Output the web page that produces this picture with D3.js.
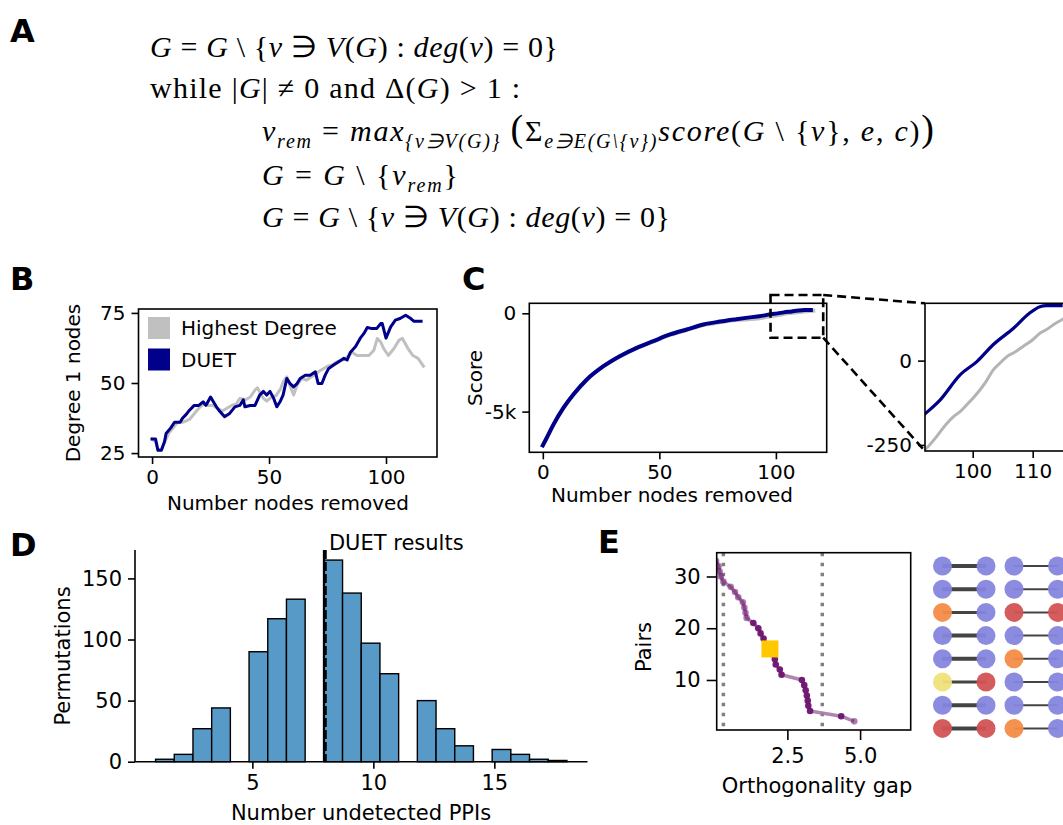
<!DOCTYPE html>
<html><head><meta charset="utf-8">
<script src="https://cdn.jsdelivr.net/npm/d3@7/dist/d3.min.js"></script>
<style>body{margin:0;background:#fff}svg{display:block}</style>
</head><body><svg id="c" width="1063" height="825"></svg>
<script>
// ---------------- DATA ----------------
// Panel B: Degree 1 nodes vs number nodes removed
const bDuetX = [0,1.5,2.5,4,5.3,6,8,9.6,12,13,14.6,16,18,20,21.8,23,25,27.5,29,31,33,35.4,37.5,39,39.7,42,44,46,47.6,49,50.4,52,53.3,54.7,56,57.6,59,60.5,62,63.3,65.5,67.6,69.8,71,72.6,74,75.5,77.6,79.8,82,83.4,84.8,87,89,90.5,92,94,96,97.7,98.4,100,102,104,106,108.4,110.6,112,115];
const bDuetY = [30,30,26,26,29,32,34,36,36,37.4,38.8,40.3,42,42,43.3,42,45,41.5,39.8,38,39,41.5,42,44,41.5,42,42,45.7,47,45.7,47,44.5,41.5,43.3,45.7,51.6,49.8,48.6,49.8,51.6,52.8,52.8,54,49.8,49.8,52.8,55.2,56.4,57.6,58.8,58.2,61,63,66,67.6,69.8,69.4,69.4,71.2,71.2,66,70,72.4,73,74.2,73,72,72];
const bHighX = [0,1.5,2.5,4,5.5,7,9,11,13,14.6,16,18,20,22,24,26,28,30,32,34,36,37.5,40,42,44,45,47.6,49,51,53,55,56,57.6,59,60.5,62,64,66,68,70,71,73.4,75,77,79,81,83,85.5,87.6,90.5,92.7,94.8,96.3,97.7,99,101,103.4,105.6,107,109.4,111.5,113.7,116];
const bHighY = [30,29,26,26.5,29,32,34,36,36,36.5,37,39,41,42.5,42,42,41,40,41,42,42.5,44.5,44,45,47.5,48.3,44.5,43.5,45,45.5,48,50.4,52.2,49,45.7,49.3,51.6,51,52.2,53,54,55.2,56,56.4,57.6,58,59,61,59.8,59.8,59.8,61.7,65.9,64.7,62.3,59.8,62.3,65.3,65.9,62.3,59.8,58.8,56];
const bXTicks = [0,50,100];
const bYTicks = [25,50,75];
const bSeries = ["Highest Degree","DUET"];

// Panel C: Score vs number nodes removed (main + inset)
const cDuetX = [0,1.7,4.6,8.9,13.1,18.9,26,33,40.3,47.4,54.6,61.7,68.9,76,83,88,92.05,94.55,97.9,100.7,103.4,106.8,109.5,111.2,112.3,115];
const cDuetY = [-6720,-6330,-5650,-4800,-4130,-3365,-2690,-2180,-1755,-1415,-1077,-823,-568,-420,-300,-220,-158,-117,-42,-3,47,96,141,160,163,163];
const cHighX = [0,1.7,4.6,8.9,13.1,18.9,26,33,40.3,47.4,54.6,61.7,68.9,76,83,88,92.3,94,95.5,96.8,98,99,100,101.2,102.3,103.4,104.5,105.7,107,108.4,110,111.2,112.3,113.4,115,116];
const cHighY = [-6730,-6340,-5665,-4815,-4145,-3380,-2705,-2195,-1772,-1435,-1100,-850,-600,-455,-345,-300,-260,-225,-190,-166,-150,-131,-112,-87,-60,-28,-8,12,25,42,62,81,92,106,123,135];
const cXTicks = [0,50,100];
const cYTicks = [-5000,0];
const cYTickLabels = ["-5k","0"];
const insetXTicks = [100,110];
const insetYTicks = [-250,0];
const zoomBoxX = [97.7,120.3];
const zoomBoxY = [-1240,930];

// Panel D: histogram of undetected PPIs over permutations
const dRange = [1,18];
const dCounts = [2,6,27,44,0,90,117,133,0,165,138,97,72,0,50,27,13,0,10,6,2,1];
const dXTicks = [5,10,15];
const dYTicks = [0,50,100,150];
const dDuet = 8;

// Panel E: orthogonality gap vs pairs
const ePairs = [33,32,31,30,29,28,27,26,25,24,23,22,21,20,19,18,17,16,15,14,13,12,11,10,9,8,7,6,5,4,3,2];
const eGap   = [0.05,0.13,0.17,0.21,0.30,0.55,0.70,0.81,0.97,1.02,1.06,1.10,1.33,1.50,1.58,1.68,1.75,1.90,1.97,2.07,2.10,2.24,2.30,3.00,3.08,3.13,3.17,3.20,3.22,3.28,4.35,4.80];
const eSelected = {gap:1.9, pairs:16};
const eThresholds = [0.3,3.7];
const eXTicks = [2.5,5.0];
const eYTicks = [10,20,30];
// node-pair glyphs (rows x [pair1 a, pair1 b, pair2 a, pair2 b])
const nodeColors = [
  ["L","L","L","L"],
  ["L","L","L","L"],
  ["O","L","R","R"],
  ["L","L","L","L"],
  ["L","L","O","L"],
  ["Y","R","L","L"],
  ["L","L","L","L"],
  ["R","R","O","L"]
];
const edgeWeight = [[4,2],[4,2],[3,2],[4,2],[4,2],[3,2],[4,2],[4,2]];

// ---------------- DRAWING ----------------
const FONT = "DejaVu Sans";
const svg = d3.select("#c");
svg.append("rect").attr("width",1063).attr("height",825).attr("fill","#fff");

function styleAxis(g, fs){
  g.select(".domain").remove();
  g.selectAll(".tick line").attr("stroke","#000").attr("stroke-width",1.6);
  g.selectAll(".tick text").attr("font-family",FONT).attr("font-size",fs||20).attr("fill","#000");
}
function box(x0,y0,x1,y1){
  svg.append("rect").attr("x",x0).attr("y",y0).attr("width",x1-x0).attr("height",y1-y0)
    .attr("fill","none").attr("stroke","#000").attr("stroke-width",1.6);
}
function label(t,x,y,rot,fs){
  const e = svg.append("text").attr("font-family",FONT).attr("font-size",fs||20).attr("text-anchor","middle").text(t);
  if(rot) e.attr("transform",`translate(${x},${y}) rotate(-90)`); else e.attr("x",x).attr("y",y);
  return e;
}
function letter(t,x,y){
  svg.append("text").attr("x",x).attr("y",y).attr("font-family",FONT).attr("font-weight","bold")
    .attr("font-size",32).text(t);
}

// ---- Panel A: algorithm ----
letter("A",10,42);
function mathLine(x,y,parts,len){
  const t = svg.append("text").attr("x",x).attr("y",y).attr("font-family","Liberation Serif")
    .attr("font-size",30).attr("xml:space","preserve").style("white-space","pre")
    .attr("textLength",len).attr("lengthAdjust","spacing");
  let shift = 0;
  parts.forEach(p=>{
    const target = p.s ? 7 : 0;
    t.append("tspan").attr("dy",target-shift)
      .attr("font-style",p.i?"italic":"normal")
      .attr("font-size",p.s?20:(p.b?38:30)).text(p.t);
    shift = target;
  });
}
const lineDeg = [{t:"G",i:1},{t:" = "},{t:"G",i:1},{t:" \\ {"},{t:"v",i:1},{t:" ∋ "},{t:"V",i:1},{t:"("},{t:"G",i:1},{t:") : "},{t:"deg",i:1},{t:"("},{t:"v",i:1},{t:") = 0}"}];
mathLine(150,57,lineDeg,408);
mathLine(150,98,[{t:"while |"},{t:"G",i:1},{t:"| ≠ 0 and Δ("},{t:"G",i:1},{t:") > 1 :"}],370);
mathLine(262,141,[{t:"v",i:1},{t:"rem",i:1,s:1},{t:" = "},{t:"max",i:1},{t:"{v∋V(G)}",i:1,s:1},{t:" "},{t:"(",b:1},{t:"Σ"},{t:"e∋E(G\\{v})",i:1,s:1},{t:"score",i:1},{t:"("},{t:"G",i:1},{t:" \\ {"},{t:"v",i:1},{t:"}, "},{t:"e",i:1},{t:", "},{t:"c",i:1},{t:")"},{t:")",b:1}],672);
mathLine(262,185,[{t:"G",i:1},{t:" = "},{t:"G",i:1},{t:" \\ {"},{t:"v",i:1},{t:"rem",i:1,s:1},{t:"}"}],196);
mathLine(262,227,lineDeg,408);

// ---- Panel B ----
letter("B",10,290);
const bx = d3.scaleLinear().domain([-5.8,121.8]).range([138.5,437]);
const by = d3.scaleLinear().domain([23.6,76.4]).range([457,309]);
styleAxis(svg.append("g").attr("transform","translate(0,457)").call(d3.axisBottom(bx).tickValues(bXTicks).tickSize(7).tickPadding(6)));
styleAxis(svg.append("g").attr("transform","translate(138.5,0)").call(d3.axisLeft(by).tickValues(bYTicks).tickSize(7).tickPadding(6)));
const bLine = d3.line().x(d=>bx(d[0])).y(d=>by(d[1]));
svg.append("path").datum(d3.zip(bHighX,bHighY)).attr("d",bLine).attr("fill","none")
  .attr("stroke","#c0c0c0").attr("stroke-width",3).attr("stroke-linejoin","round").attr("stroke-linecap","square");
svg.append("path").datum(d3.zip(bDuetX,bDuetY)).attr("d",bLine).attr("fill","none")
  .attr("stroke","#00008b").attr("stroke-width",3).attr("stroke-linejoin","round").attr("stroke-linecap","square");
box(138.5,309,437,457);
const bLegColors = ["#c0c0c0","#00008b"];
bSeries.forEach((s,i)=>{
  svg.append("rect").attr("x",148).attr("y",317+i*31.5).attr("width",22).attr("height",22).attr("fill",bLegColors[i]);
  svg.append("text").attr("x",181).attr("y",335+i*31.5).attr("font-family",FONT).attr("font-size",20).text(s);
});
label("Degree 1 nodes",80,383,true);
label("Number nodes removed",288,510);

// ---- Panel C ----
letter("C",462,290);
const cx = d3.scaleLinear().domain([-5.8,121.8]).range([529.3,826.7]);
const cy = d3.scaleLinear().domain([-7070,509]).range([452.3,303.3]);
styleAxis(svg.append("g").attr("transform","translate(0,452.3)").call(d3.axisBottom(cx).tickValues(cXTicks).tickSize(7).tickPadding(6)));
styleAxis(svg.append("g").attr("transform","translate(529.3,0)").call(d3.axisLeft(cy).tickValues(cYTicks).tickFormat((d,i)=>cYTickLabels[i]).tickSize(7).tickPadding(6)));
const cLine = d3.line().x(d=>cx(d[0])).y(d=>cy(d[1])).curve(d3.curveMonotoneX);
svg.append("path").datum(d3.zip(cHighX,cHighY)).attr("d",cLine).attr("fill","none")
  .attr("stroke","#c0c0c0").attr("stroke-width",4).attr("stroke-linecap","square");
svg.append("path").datum(d3.zip(cDuetX,cDuetY)).attr("d",cLine).attr("fill","none")
  .attr("stroke","#00008b").attr("stroke-width",4).attr("stroke-linecap","square");
box(529.3,303.3,826.7,452.3);
label("Score",482,378,true);
label("Number nodes removed",672,502);

// inset
const ix = d3.scaleLinear().domain([92.05,117]).range([925,1074.7]);
const iy = d3.scaleLinear().domain([-268,170]).range([451,303.3]);
svg.append("clipPath").attr("id","insetClip").append("rect").attr("x",925).attr("y",303.3).attr("width",150).attr("height",147.7);
styleAxis(svg.append("g").attr("transform","translate(0,451)").call(d3.axisBottom(ix).tickValues(insetXTicks).tickSize(7).tickPadding(6)));
styleAxis(svg.append("g").attr("transform","translate(925,0)").call(d3.axisLeft(iy).tickValues(insetYTicks).tickFormat(d=>d===0?"0":String(d)).tickSize(7).tickPadding(6)));
const iLine = d3.line().x(d=>ix(d[0])).y(d=>iy(d[1])).curve(d3.curveMonotoneX);
const ig = svg.append("g").attr("clip-path","url(#insetClip)");
ig.append("path").datum(d3.zip(cHighX,cHighY).filter(d=>d[0]>=88)).attr("d",iLine).attr("fill","none")
  .attr("stroke","#b4b4b4").attr("stroke-width",3);
ig.append("path").datum(d3.zip(cDuetX,cDuetY).filter(d=>d[0]>=88)).attr("d",iLine).attr("fill","none")
  .attr("stroke","#00008b").attr("stroke-width",3.2);
box(925,303.3,1080,451);

// zoom marker
const zx0=cx(zoomBoxX[0]), zx1=cx(zoomBoxX[1]), zy0=cy(zoomBoxY[1]), zy1=cy(zoomBoxY[0]);
const dashS = {stroke:"#000","stroke-width":2.6,"stroke-dasharray":"9,5",fill:"none"};
function dashed(sel){ Object.entries(dashS).forEach(([k,v])=>sel.attr(k,v)); return sel; }
dashed(svg.append("rect").attr("x",zx0).attr("y",zy0).attr("width",zx1-zx0).attr("height",zy1-zy0));
dashed(svg.append("line").attr("x1",zx1).attr("y1",zy0).attr("x2",925).attr("y2",303.3));
dashed(svg.append("line").attr("x1",zx1).attr("y1",zy1).attr("x2",925).attr("y2",451));

// ---- Panel D ----
letter("D",10,556);
const dx = d3.scaleLinear().domain([0.15,18.85]).range([135,587.5]);
const dy = d3.scaleLinear().domain([0,173.25]).range([761.7,550]);
const bw = (dRange[1]-dRange[0])/dCounts.length;
svg.append("g").selectAll("rect").data(dCounts).join("rect")
  .attr("x",(d,i)=>dx(dRange[0]+i*bw)).attr("width",(d,i)=>dx(dRange[0]+(i+1)*bw)-dx(dRange[0]+i*bw))
  .attr("y",d=>dy(d)).attr("height",d=>dy(0)-dy(d))
  .attr("fill","#5799c7").attr("stroke","#000").attr("stroke-width",1.4)
  .attr("display",d=>d>0?null:"none");
styleAxis(svg.append("g").attr("transform","translate(0,761.7)").call(d3.axisBottom(dx).tickValues(dXTicks).tickSize(7).tickPadding(6)),21);
styleAxis(svg.append("g").attr("transform","translate(135,0)").call(d3.axisLeft(dy).tickValues(dYTicks).tickSize(7).tickPadding(6)),21);
svg.append("line").attr("x1",135).attr("x2",587.5).attr("y1",761.7).attr("y2",761.7).attr("stroke","#000").attr("stroke-width",1.6);
svg.append("line").attr("x1",135).attr("x2",135).attr("y1",550).attr("y2",761.7).attr("stroke","#000").attr("stroke-width",1.6);
svg.append("line").attr("x1",dx(dDuet)-1).attr("x2",dx(dDuet)-1).attr("y1",550).attr("y2",761.7)
  .attr("stroke","#000").attr("stroke-width",2.2);
svg.append("line").attr("x1",dx(dDuet)+0.8).attr("x2",dx(dDuet)+0.8).attr("y1",550).attr("y2",761.7)
  .attr("stroke","#000").attr("stroke-width",2).attr("stroke-dasharray","9,3");
svg.append("text").attr("x",dx(dDuet)+4).attr("y",550).attr("font-family",FONT).attr("font-size",21).text("DUET results");
label("Permutations",70,656,true,21);
label("Number undetected PPIs",361,820,false,21);

// ---- Panel E ----
letter("E",598,553);
const ex = d3.scaleLinear().domain([0.07,6.74]).range([716.7,910.7]);
const ey = d3.scaleLinear().domain([0.33,34.6]).range([730,552.7]);
styleAxis(svg.append("g").attr("transform","translate(0,730)").call(d3.axisBottom(ex).tickValues(eXTicks).tickFormat(d3.format(".1f")).tickSize(10).tickPadding(8)),21);
styleAxis(svg.append("g").attr("transform","translate(716.7,0)").call(d3.axisLeft(ey).tickValues(eYTicks).tickSize(10).tickPadding(6)),21);
svg.append("clipPath").attr("id","eClip").append("rect").attr("x",716.7).attr("y",552.7).attr("width",194).attr("height",177.3);
const eg = svg.append("g").attr("clip-path","url(#eClip)");
eThresholds.forEach(t=>{
  eg.append("line").attr("x1",ex(t)).attr("x2",ex(t)).attr("y1",552.7).attr("y2",730)
    .attr("stroke","#808080").attr("stroke-width",3.5).attr("stroke-dasharray","3.5,6.5");
});
const ePts = d3.zip(eGap,ePairs);
eg.append("path").datum(ePts).attr("d",d3.line().x(d=>ex(d[0])).y(d=>ey(d[1])))
  .attr("fill","none").attr("stroke","#a779a7").attr("stroke-width",3.5).attr("stroke-linejoin","round").attr("opacity",0.9);
eg.selectAll("circle").data(ePts).join("circle").attr("cx",d=>ex(d[0])).attr("cy",d=>ey(d[1])).attr("r",3.3)
  .attr("fill","#6e1470").attr("opacity",(d)=>d[1]>=22||d[1]<=2?0.55:0.95);
eg.append("rect").attr("x",ex(eSelected.gap)-8.5).attr("y",ey(eSelected.pairs)-8.5).attr("width",17).attr("height",17).attr("fill","#ffc800");
box(716.7,552.7,910.7,730);
label("Pairs",651,647,true,21);
label("Orthogonality gap",817,793,false,21);

// node-pair glyphs
const colorMap = {L:"#8585dd",O:"#f68c46",R:"#d35353",Y:"#f1e27b"};
const gx0 = 942.5, within = 43.5, pairStep = 71.5, gy0 = 566, rowStep = 23.2, nr = 9.5;
const glyph = svg.append("g");
nodeColors.forEach((row,r)=>{
  [0,1].forEach(p=>{
    const xa = gx0+p*pairStep, xb = xa+within, yy = gy0+r*rowStep;
    glyph.append("line").attr("x1",xa).attr("x2",xb).attr("y1",yy).attr("y2",yy)
      .attr("stroke","#444").attr("stroke-width",edgeWeight[r][p]);
    glyph.append("circle").attr("cx",xa).attr("cy",yy).attr("r",nr).attr("fill",colorMap[row[p*2]]).attr("opacity",0.95);
    glyph.append("circle").attr("cx",xb).attr("cy",yy).attr("r",nr).attr("fill",colorMap[row[p*2+1]]).attr("opacity",0.95);
  });
});
</script></body></html>
